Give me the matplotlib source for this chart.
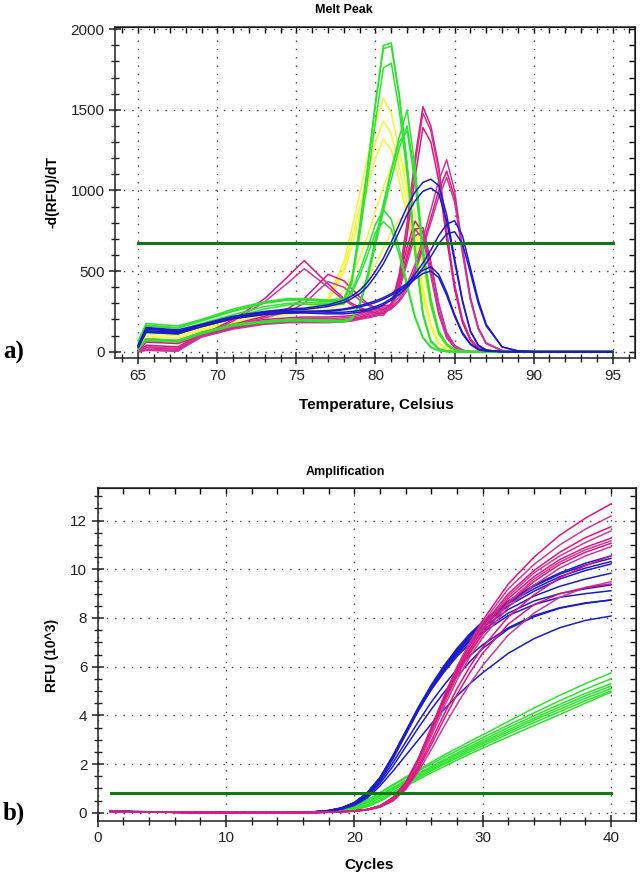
import matplotlib
matplotlib.use("Agg")
import matplotlib.pyplot as plt
from matplotlib.ticker import MultipleLocator

plt.rcParams['font.family'] = ['Liberation Sans', 'DejaVu Sans']

# ---------------- melt peak ----------------
melt_temp = [65, 65.5, 67.5, 69, 71, 73, 74.5, 75.5, 77, 78, 78.5, 79, 79.5, 80,
             80.5, 81, 81.5, 82, 82.5, 83, 83.5, 84, 84.5, 85, 85.5, 86, 86.5,
             87, 88, 89, 90, 95]

melt_green = [
    [70, 175, 160, 200, 265, 310, 330, 330, 320, 330, 450, 780, 1150, 1550, 1900, 1915, 1600, 1170, 650, 240, 70, 18, 5, 0, 0, 0, 0, 0, 0, 0, 0, 0],
    [60, 165, 150, 195, 255, 305, 325, 325, 315, 320, 430, 760, 1130, 1530, 1880, 1895, 1580, 1150, 640, 235, 65, 16, 4, 0, 0, 0, 0, 0, 0, 0, 0, 0],
    [50, 160, 145, 190, 250, 300, 320, 320, 310, 315, 420, 720, 1060, 1430, 1760, 1790, 1500, 1100, 610, 225, 60, 14, 4, 0, 0, 0, 0, 0, 0, 0, 0, 0],
    [25, 80, 70, 120, 170, 190, 200, 200, 195, 195, 210, 300, 480, 700, 920, 1130, 1330, 1500, 1150, 650, 330, 130, 50, 15, 5, 0, 0, 0, 0, 0, 0, 0],
    [20, 75, 65, 115, 165, 185, 195, 195, 190, 190, 205, 280, 450, 660, 870, 1070, 1260, 1400, 1100, 620, 310, 120, 45, 12, 4, 0, 0, 0, 0, 0, 0, 0],
    [15, 70, 60, 110, 160, 180, 190, 190, 185, 185, 200, 290, 470, 690, 900, 1120, 1300, 1370, 1050, 590, 290, 110, 40, 10, 3, 0, 0, 0, 0, 0, 0, 0],
    [40, 140, 130, 175, 230, 280, 300, 305, 300, 305, 380, 500, 640, 790, 880, 820, 640, 420, 220, 90, 30, 8, 0, 0, 0, 0, 0, 0, 0, 0, 0, 0],
    [30, 120, 110, 160, 215, 265, 290, 295, 290, 295, 360, 470, 600, 740, 806, 760, 600, 400, 210, 85, 25, 6, 0, 0, 0, 0, 0, 0, 0, 0, 0, 0],
]

melt_yellow = [
    [45, 130, 120, 160, 210, 240, 255, 265, 330, 560, 760, 980, 1200, 1420, 1572, 1480, 1250, 1000, 700, 400, 170, 60, 15, 0, 0, 0, 0, 0, 0, 0, 0, 0],
    [40, 125, 115, 155, 205, 235, 250, 260, 320, 520, 700, 900, 1100, 1300, 1430, 1350, 1150, 920, 640, 370, 160, 55, 15, 0, 0, 0, 0, 0, 0, 0, 0, 0],
    [35, 120, 110, 150, 200, 230, 245, 255, 310, 490, 650, 840, 1020, 1200, 1320, 1250, 1060, 850, 590, 340, 150, 50, 12, 0, 0, 0, 0, 0, 0, 0, 0, 0],
    [30, 110, 100, 140, 190, 225, 240, 250, 280, 380, 470, 580, 720, 870, 1020, 1150, 1210, 1100, 850, 550, 280, 110, 35, 10, 0, 0, 0, 0, 0, 0, 0, 0],
    [25, 95, 85, 130, 180, 215, 230, 240, 260, 300, 330, 380, 450, 540, 640, 740, 820, 850, 760, 520, 280, 110, 35, 10, 0, 0, 0, 0, 0, 0, 0, 0],
]

melt_magenta = [
    [15, 80, 70, 120, 170, 200, 210, 215, 215, 220, 225, 235, 250, 265, 285, 290, 480, 800, 1200, 1520, 1400, 1150, 750, 420, 200, 80, 25, 8, 0, 0, 0, 0],
    [10, 70, 60, 110, 160, 190, 200, 205, 205, 210, 215, 225, 240, 255, 275, 280, 460, 770, 1160, 1480, 1370, 1120, 730, 400, 190, 75, 22, 6, 0, 0, 0, 0],
    [5, 60, 50, 100, 150, 180, 190, 195, 195, 200, 205, 215, 230, 245, 265, 270, 440, 720, 1080, 1390, 1300, 1060, 700, 390, 180, 70, 20, 5, 0, 0, 0, 0],
    [5, 30, 20, 100, 150, 180, 190, 190, 190, 195, 200, 210, 220, 235, 255, 290, 340, 420, 540, 700, 880, 1060, 1190, 1000, 650, 340, 150, 55, 8, 0, 0, 0],
    [3, 25, 15, 95, 145, 175, 185, 185, 185, 190, 195, 205, 215, 225, 245, 275, 320, 400, 510, 660, 830, 1000, 1120, 960, 630, 330, 145, 50, 7, 0, 0, 0],
    [0, 15, 8, 90, 140, 170, 180, 180, 180, 185, 190, 200, 210, 220, 240, 265, 310, 380, 490, 640, 800, 960, 1080, 930, 610, 320, 140, 50, 7, 0, 0, 0],
    [0, 10, 5, 100, 200, 330, 470, 565, 420, 330, 300, 275, 255, 240, 235, 300, 450, 650, 810, 740, 500, 250, 95, 30, 8, 0, 0, 0, 0, 0, 0, 0],
    [0, 8, 3, 95, 190, 310, 430, 515, 400, 320, 290, 265, 245, 230, 225, 285, 420, 610, 760, 700, 470, 230, 85, 25, 6, 0, 0, 0, 0, 0, 0, 0],
    [5, 40, 30, 110, 170, 220, 270, 330, 480, 440, 390, 340, 300, 270, 260, 290, 400, 580, 760, 770, 560, 300, 120, 40, 10, 0, 0, 0, 0, 0, 0, 0],
    [3, 30, 20, 105, 165, 210, 250, 300, 435, 400, 360, 320, 290, 265, 255, 280, 380, 550, 720, 740, 540, 290, 110, 35, 8, 0, 0, 0, 0, 0, 0, 0],
]

melt_blue = [
    [40, 150, 135, 170, 220, 250, 265, 270, 290, 320, 345, 380, 430, 500, 580, 680, 790, 900, 990, 1050, 1070, 1030, 850, 580, 320, 130, 40, 10, 0, 0, 0, 0],
    [35, 145, 130, 165, 215, 245, 258, 262, 280, 305, 330, 360, 405, 470, 545, 640, 745, 850, 935, 995, 1015, 980, 810, 560, 310, 125, 40, 10, 0, 0, 0, 0],
    [40, 140, 125, 165, 215, 245, 250, 250, 245, 245, 250, 255, 265, 280, 300, 330, 370, 420, 480, 550, 630, 720, 790, 813, 720, 520, 320, 170, 30, 5, 0, 0],
    [30, 120, 110, 155, 205, 235, 240, 240, 235, 235, 240, 245, 255, 270, 290, 320, 355, 400, 455, 520, 590, 670, 730, 744, 670, 490, 300, 160, 30, 5, 0, 0],
    [30, 130, 120, 160, 210, 235, 245, 250, 255, 265, 275, 285, 300, 315, 335, 360, 390, 425, 465, 505, 527, 480, 370, 230, 120, 50, 15, 5, 0, 0, 0, 0],
    [25, 125, 115, 155, 205, 230, 240, 245, 250, 260, 268, 278, 290, 305, 325, 350, 380, 410, 450, 485, 500, 460, 350, 220, 110, 45, 12, 4, 0, 0, 0, 0],
]

melt_threshold = 676

# ---------------- amplification ----------------
cycles = [1, 5, 10, 15, 17, 18, 19, 20, 21, 22, 23, 24, 25, 26, 27, 28, 29, 30, 32, 34, 36, 38, 40]

amp_blue = [
    [0.06, 0.03, 0, 0, 0.04, 0.09, 0.2, 0.42, 0.82, 1.45, 2.35, 3.35, 4.35, 5.25, 6.05, 6.75, 7.35, 7.85, 8.7, 9.35, 9.85, 10.25, 10.55],
    [0.06, 0.03, 0, 0, 0.04, 0.09, 0.19, 0.4, 0.8, 1.42, 2.3, 3.3, 4.3, 5.2, 6.0, 6.7, 7.3, 7.8, 8.65, 9.3, 9.8, 10.17, 10.45],
    [0.05, 0.03, 0, 0, 0.04, 0.08, 0.18, 0.38, 0.77, 1.38, 2.25, 3.25, 4.25, 5.15, 5.95, 6.65, 7.25, 7.75, 8.6, 9.2, 9.7, 10.05, 10.32],
    [0.05, 0.03, 0, 0, 0.04, 0.08, 0.18, 0.37, 0.75, 1.35, 2.2, 3.2, 4.2, 5.1, 5.9, 6.6, 7.2, 7.7, 8.5, 9.1, 9.6, 9.95, 10.22],
    [0.05, 0.02, 0, 0, 0.04, 0.08, 0.18, 0.38, 0.78, 1.4, 2.28, 3.28, 4.25, 5.12, 5.88, 6.55, 7.12, 7.6, 8.35, 8.9, 9.3, 9.6, 9.84],
    [0.05, 0.02, 0, 0, 0.04, 0.08, 0.19, 0.4, 0.8, 1.42, 2.3, 3.3, 4.27, 5.12, 5.85, 6.5, 7.05, 7.5, 8.2, 8.7, 9.0, 9.2, 9.36],
    [0.05, 0.02, 0, 0, 0.04, 0.08, 0.19, 0.4, 0.8, 1.42, 2.3, 3.28, 4.22, 5.05, 5.78, 6.42, 6.95, 7.4, 8.1, 8.55, 8.85, 9.0, 9.12],
    [0.05, 0.02, 0, 0, 0.03, 0.07, 0.16, 0.34, 0.7, 1.28, 2.05, 2.9, 3.75, 4.55, 5.25, 5.9, 6.45, 6.9, 7.6, 8.1, 8.42, 8.62, 8.74],
    [0.05, 0.02, 0, 0, 0.03, 0.07, 0.15, 0.32, 0.66, 1.2, 1.9, 2.7, 3.5, 4.25, 4.95, 5.6, 6.2, 6.75, 7.55, 8.05, 8.4, 8.6, 8.74],
    [0.05, 0.02, 0, 0, 0.03, 0.06, 0.14, 0.3, 0.6, 1.1, 1.7, 2.35, 3.0, 3.65, 4.25, 4.8, 5.3, 5.75, 6.55, 7.15, 7.6, 7.9, 8.08],
]

amp_pink = [
    [0.05, 0.02, 0, 0, 0.01, 0.02, 0.04, 0.07, 0.13, 0.28, 0.6, 1.2, 2.2, 3.5, 4.8, 6.0, 7.0, 7.9, 9.4, 10.5, 11.4, 12.1, 12.69],
    [0.05, 0.02, 0, 0, 0.01, 0.02, 0.04, 0.07, 0.13, 0.28, 0.6, 1.2, 2.2, 3.45, 4.75, 5.95, 6.95, 7.8, 9.2, 10.2, 11.0, 11.65, 12.19],
    [0.05, 0.02, 0, 0, 0.01, 0.02, 0.04, 0.07, 0.13, 0.28, 0.62, 1.25, 2.25, 3.5, 4.75, 5.9, 6.85, 7.7, 9.0, 9.95, 10.7, 11.3, 11.75],
    [0.05, 0.02, 0, 0, 0.01, 0.02, 0.04, 0.07, 0.13, 0.27, 0.58, 1.18, 2.15, 3.4, 4.65, 5.8, 6.75, 7.6, 8.9, 9.85, 10.55, 11.1, 11.58],
    [0.05, 0.02, 0, 0, 0.01, 0.02, 0.04, 0.07, 0.13, 0.28, 0.6, 1.2, 2.2, 3.45, 4.7, 5.8, 6.7, 7.5, 8.8, 9.7, 10.4, 10.9, 11.28],
    [0.05, 0.02, 0, 0, 0.01, 0.02, 0.04, 0.07, 0.12, 0.26, 0.56, 1.12, 2.05, 3.25, 4.5, 5.6, 6.55, 7.35, 8.65, 9.6, 10.3, 10.8, 11.17],
    [0.05, 0.02, 0, 0, 0.01, 0.02, 0.04, 0.07, 0.13, 0.28, 0.6, 1.2, 2.2, 3.4, 4.6, 5.7, 6.6, 7.35, 8.6, 9.5, 10.2, 10.7, 11.07],
    [0.05, 0.02, 0, 0, 0.01, 0.02, 0.04, 0.07, 0.12, 0.26, 0.55, 1.1, 2.0, 3.15, 4.35, 5.45, 6.4, 7.2, 8.45, 9.35, 10.05, 10.55, 10.93],
    [0.05, 0.02, 0, 0, 0.01, 0.02, 0.04, 0.07, 0.12, 0.25, 0.52, 1.05, 1.9, 2.95, 4.05, 5.1, 6.0, 6.8, 8.05, 8.95, 9.65, 10.15, 10.55],
    [0.05, 0.02, 0, 0, 0.01, 0.02, 0.04, 0.06, 0.11, 0.23, 0.48, 0.95, 1.7, 2.6, 3.55, 4.45, 5.3, 6.05, 7.3, 8.2, 8.85, 9.25, 9.49],
    [0.05, 0.02, 0, 0, 0.01, 0.02, 0.04, 0.06, 0.11, 0.23, 0.5, 1.0, 1.8, 2.8, 3.85, 4.85, 5.75, 6.55, 7.75, 8.55, 9.0, 9.25, 9.4],
]

amp_green = [
    [0.05, 0.02, 0, 0, 0.02, 0.05, 0.13, 0.28, 0.52, 0.82, 1.15, 1.46, 1.77, 2.07, 2.37, 2.65, 2.93, 3.2, 3.75, 4.3, 4.82, 5.3, 5.74],
    [0.05, 0.02, 0, 0, 0.02, 0.05, 0.12, 0.26, 0.5, 0.8, 1.12, 1.42, 1.72, 2.0, 2.28, 2.55, 2.82, 3.08, 3.6, 4.1, 4.6, 5.07, 5.5],
    [0.05, 0.02, 0, 0, 0.02, 0.04, 0.1, 0.22, 0.43, 0.72, 1.03, 1.33, 1.62, 1.9, 2.18, 2.45, 2.72, 2.98, 3.5, 3.98, 4.45, 4.9, 5.3],
    [0.05, 0.02, 0, 0, 0.02, 0.04, 0.09, 0.2, 0.4, 0.68, 0.98, 1.28, 1.57, 1.85, 2.12, 2.39, 2.65, 2.9, 3.4, 3.88, 4.35, 4.8, 5.2],
    [0.05, 0.02, 0, 0, 0.01, 0.03, 0.07, 0.16, 0.33, 0.6, 0.92, 1.22, 1.5, 1.78, 2.05, 2.32, 2.58, 2.83, 3.32, 3.8, 4.25, 4.7, 5.1],
    [0.05, 0.02, 0, 0, 0.01, 0.03, 0.06, 0.13, 0.28, 0.52, 0.84, 1.15, 1.44, 1.72, 1.99, 2.25, 2.5, 2.75, 3.24, 3.7, 4.15, 4.6, 5.0],
    [0.05, 0.02, 0, 0, 0.01, 0.02, 0.05, 0.11, 0.24, 0.46, 0.78, 1.08, 1.37, 1.64, 1.9, 2.16, 2.41, 2.65, 3.12, 3.58, 4.03, 4.5, 4.95],
]

amp_threshold = 0.82

C_GREEN = '#2fe22f'
C_YELLOW = '#f4f43c'
C_MAGENTA = ['#e0167c', '#c93a9a']
C_BLUE = '#1c1cc8'
C_THRESH = '#127a12'
W, H = 641, 877


def style_axes(ax, xmaj, xmin, ymaj, ymin):
    ax.xaxis.set_major_locator(MultipleLocator(xmaj))
    ax.xaxis.set_minor_locator(MultipleLocator(xmin))
    ax.yaxis.set_major_locator(MultipleLocator(ymaj))
    ax.yaxis.set_minor_locator(MultipleLocator(ymin))
    ax.tick_params(which='major', direction='inout', length=9, width=1.1,
                   labelsize=11, pad=3, colors='#222222')
    ax.tick_params(which='minor', direction='inout', length=6, width=1.0, colors='#222222')
    ax.grid(which='major', linestyle=(0, (1, 5)), color='#444444', linewidth=1.0)
    for s in ax.spines.values():
        s.set_linewidth(1.1)
        s.set_color('#222222')
    top = ax.secondary_xaxis('top')
    top.xaxis.set_major_locator(MultipleLocator(xmaj))
    top.xaxis.set_minor_locator(MultipleLocator(xmin))
    top.tick_params(which='both', direction='in', labeltop=False, length=4, width=1.0)
    right = ax.secondary_yaxis('right')
    right.yaxis.set_major_locator(MultipleLocator(ymaj))
    right.yaxis.set_minor_locator(MultipleLocator(ymin))
    right.tick_params(which='both', direction='in', labelright=False, length=4, width=1.0)


fig = plt.figure(figsize=(W / 100, H / 100), dpi=100)

# ---- panel a: melt peak ----
ax1 = fig.add_axes([115 / W, 1 - 358.3 / H, 520 / W, 331 / H])
for vals in melt_yellow:
    ax1.plot(melt_temp, vals, color=C_YELLOW, lw=1.1)
for i, vals in enumerate(melt_magenta):
    ax1.plot(melt_temp, vals, color=C_MAGENTA[i % 2], lw=1.1)
for vals in melt_green:
    ax1.plot(melt_temp, vals, color=C_GREEN, lw=1.1)
for vals in melt_blue:
    ax1.plot(melt_temp, vals, color=C_BLUE, lw=1.1)
ax1.plot([melt_temp[0], melt_temp[-1]], [melt_threshold, melt_threshold], color=C_THRESH, lw=2.2)
ax1.set_xlim(63.53, 96.41)
ax1.set_ylim(-41, 2012)
style_axes(ax1, 5, 1, 500, 100)

# ---- panel b: amplification ----
ax2 = fig.add_axes([97.7 / W, 1 - 820.7 / H, 538.3 / W, 332.4 / H])
for vals in amp_green:
    ax2.plot(cycles, vals, color=C_GREEN, lw=1.1)
for vals in amp_blue:
    ax2.plot(cycles, vals, color=C_BLUE, lw=1.1)
for i, vals in enumerate(amp_pink):
    ax2.plot(cycles, vals, color=C_MAGENTA[i % 2], lw=1.1)
ax2.plot([cycles[0], cycles[-1]], [amp_threshold, amp_threshold], color=C_THRESH, lw=2.2)
ax2.set_xlim(0, 41.95)
ax2.set_ylim(-0.33, 13.33)
style_axes(ax2, 10, 2, 2, 0.5)


def ftext(x, y, s, **kw):
    fig.text(x / W, 1 - y / H, s, ha='center', va='center', **kw)


ftext(344, 10, 'Melt Peak', fontsize=9, fontweight='bold')
ftext(376, 405, 'Temperature, Celsius', fontsize=11, fontweight='bold')
ftext(52, 192, '-d(RFU)/dT', fontsize=10, fontweight='bold', rotation=90)
ftext(345, 472, 'Amplification', fontsize=9, fontweight='bold')
ftext(369, 865, 'Cycles', fontsize=11, fontweight='bold')
ftext(52, 655, 'RFU (10^3)', fontsize=10, fontweight='bold', rotation=90)
fig.text(3 / W, 1 - 352 / H, 'a)', ha='left', va='center', fontsize=18,
         fontweight='bold', family=['Liberation Serif', 'DejaVu Serif'])
fig.text(3 / W, 1 - 813 / H, 'b)', ha='left', va='center', fontsize=18,
         fontweight='bold', family=['Liberation Serif', 'DejaVu Serif'])

fig.savefig('out.png', dpi=100)
